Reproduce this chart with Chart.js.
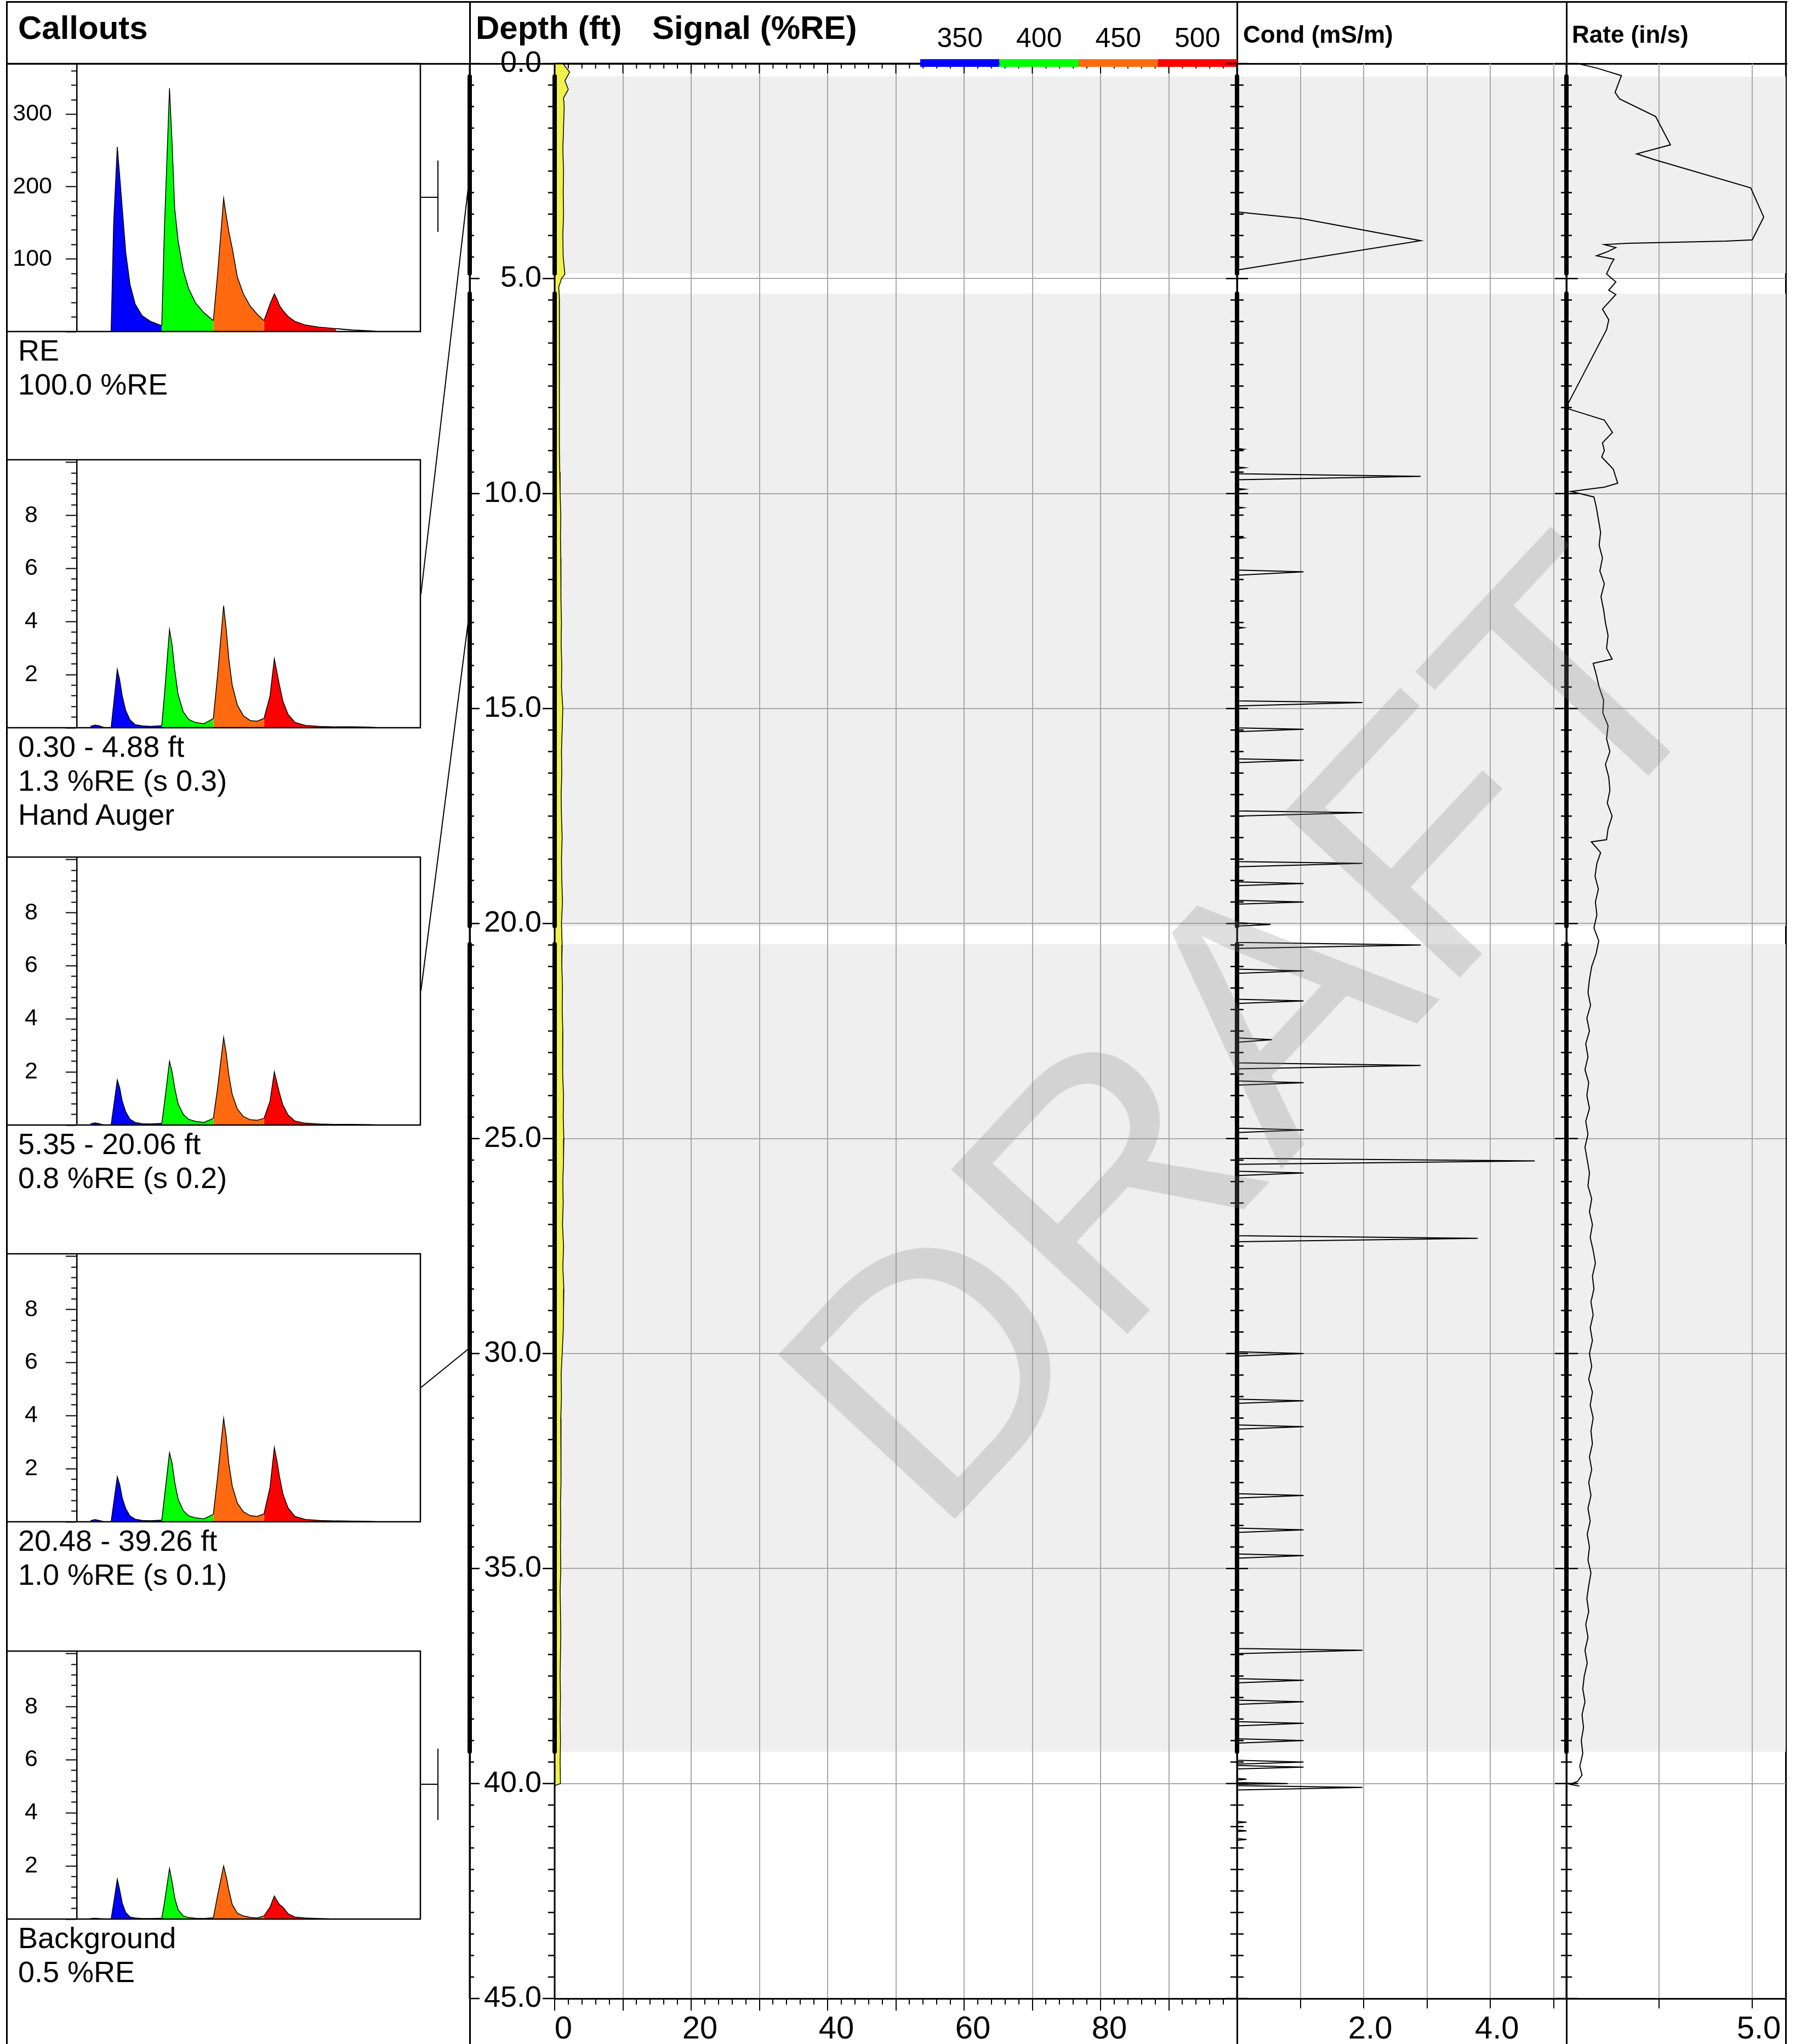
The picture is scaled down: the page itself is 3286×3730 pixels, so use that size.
<!DOCTYPE html>
<html>
<head>
<meta charset="utf-8">
<title>LIF log</title>
<script src="https://cdn.jsdelivr.net/npm/chart.js@4.4.1/dist/chart.umd.min.js"></script>
<style>
html, body { margin: 0; padding: 0; background: #fff; }
#page { position: relative; width: 3286px; height: 3730px; overflow: hidden; font-family: "Liberation Sans", Arial, sans-serif; color: #000; }
#page canvas { position: absolute; z-index: 1; }
.rule { position: absolute; background: #000; z-index: 0; }
.lbl { position: absolute; white-space: nowrap; line-height: 1; z-index: 2; }
.hd { font-weight: bold; }
#draft { position: absolute; left: 2272px; top: 1880px; transform: translate(-50%, -50%) rotate(-47deg); font-size: 640px; color: rgba(128,128,128,0.25); z-index: 5; white-space: nowrap; line-height: 1; pointer-events: none; }
</style>
</head>
<body>
<div id="page">
  <div class="rule" style="left:11px;top:2px;width:3250px;height:3px"></div>
  <div class="rule" style="left:11px;top:115px;width:3250px;height:3px"></div>
  <div class="rule" style="left:11px;top:2px;width:3px;height:3728px"></div>
  <div class="rule" style="left:856px;top:2px;width:3px;height:3728px"></div>
  <div class="rule" style="left:2256px;top:2px;width:3px;height:3728px"></div>
  <div class="rule" style="left:2857px;top:2px;width:3px;height:3728px"></div>
  <div class="rule" style="left:3257px;top:2px;width:3px;height:3728px"></div>

  <div class="lbl hd" style="left:33px;top:21px;font-size:60px">Callouts</div>
  <div class="lbl hd" style="left:868px;top:21px;font-size:60px">Depth (ft)</div>
  <div class="lbl hd" style="left:1190px;top:21px;font-size:60px">Signal (%RE)</div>
  <div class="lbl hd" style="left:2268px;top:41px;font-size:44px">Cond (mS/m)</div>
  <div class="lbl hd" style="left:2868px;top:41px;font-size:44px">Rate (in/s)</div>
  <div id="draft">DRAFT</div>
</div>
<script>
// ---------- data ----------
// callout depth intervals (ft)
const intervals = [[0.30, 4.88], [5.35, 20.06], [20.48, 39.26]];

// spectrum channels
const channelLabels = ['350', '400', '450', '500'];
const channelColors = ['#0000ff', '#00ff00', '#ff6a10', '#ff0000'];
const channelEdges = [8, 49.5, 79.5, 109, 151, 175];

// waveform time base (shared by all callouts)
const specTime = [8, 10.5, 13, 16, 20, 21.5, 23.6, 25, 26.5, 28.5, 31, 34, 38, 43, 49.5,
  51, 54, 55.5, 57, 59, 62, 65, 69, 74, 79.5,
  82, 85.5, 87, 88.5, 90.5, 93.5, 97, 101, 105, 109,
  112.5, 115, 116.5, 118, 120, 123, 127, 133, 141, 151,
  160, 170, 175];

const specRE = [0, 0, 0, 0, 0, 150, 255, 215, 170, 110, 65, 38, 22, 14, 8,
  140, 336, 260, 170, 125, 85, 60, 40, 26, 15,
  80, 184, 160, 138, 115, 75, 52, 35, 24, 15,
  38, 52, 45, 36, 29, 21, 14, 9, 6, 4,
  2, 1, 0];
const specHandAuger = [0.05, 0.1, 0.08, 0, 0, 0.9, 2.2, 1.8, 1.2, 0.65, 0.3, 0.12, 0.07, 0.05, 0.08,
  1.2, 3.7, 3.1, 2.2, 1.25, 0.6, 0.32, 0.2, 0.15, 0.35,
  2.0, 4.6, 3.7, 2.6, 1.6, 0.85, 0.45, 0.27, 0.25, 0.35,
  1.2, 2.6, 2.1, 1.6, 1.0, 0.5, 0.2, 0.09, 0.05, 0.03,
  0.03, 0.02, 0];
const specUpper = [0.04, 0.08, 0.05, 0, 0, 0.7, 1.7, 1.4, 0.9, 0.5, 0.22, 0.1, 0.05, 0.04, 0.06,
  0.8, 2.4, 2.0, 1.4, 0.8, 0.4, 0.22, 0.14, 0.1, 0.25,
  1.4, 3.3, 2.7, 1.9, 1.15, 0.6, 0.32, 0.2, 0.18, 0.25,
  0.9, 2.0, 1.6, 1.2, 0.75, 0.38, 0.15, 0.07, 0.04, 0.02,
  0.02, 0.01, 0];
const specLower = [0.04, 0.08, 0.05, 0, 0, 0.7, 1.7, 1.4, 0.9, 0.5, 0.22, 0.1, 0.05, 0.04, 0.06,
  0.9, 2.6, 2.2, 1.5, 0.85, 0.42, 0.23, 0.15, 0.11, 0.28,
  1.7, 3.9, 3.2, 2.2, 1.35, 0.7, 0.38, 0.23, 0.2, 0.3,
  1.3, 2.8, 2.3, 1.7, 1.05, 0.52, 0.2, 0.09, 0.05, 0.03,
  0.02, 0.01, 0];
const specBackground = [0.02, 0.03, 0.02, 0, 0, 0.6, 1.5, 1.1, 0.6, 0.25, 0.08, 0.04, 0.02, 0.02, 0.03,
  0.6, 1.9, 1.4, 0.8, 0.35, 0.12, 0.06, 0.03, 0.02, 0.05,
  0.9, 2.0, 1.6, 1.1, 0.55, 0.22, 0.12, 0.06, 0.04, 0.12,
  0.45, 0.87, 0.7, 0.55, 0.45, 0.2, 0.08, 0.04, 0.02, 0,
  0, 0, 0];

const specMax = [370, 10.1, 10.1, 10.1, 10.1];
const specStep = [20, 0.4, 0.4, 0.4, 0.4];
const specMajor = [100, 2, 2, 2, 2];
const calloutNotes = [
  ['RE', '100.0 %RE'],
  ['0.30 - 4.88 ft', '1.3 %RE (s 0.3)', 'Hand Auger'],
  ['5.35 - 20.06 ft', '0.8 %RE (s 0.2)'],
  ['20.48 - 39.26 ft', '1.0 %RE (s 0.1)'],
  ['Background', '0.5 %RE']
];

// signal (%RE) vs depth (ft)
const signalDepth = [0.0, 0.2, 0.4, 0.6, 0.8, 1.0, 1.5, 2.0, 2.5, 3.0, 3.5, 4.0, 4.5, 4.9, 5.0, 5.2,
  5.5, 6.0, 6.5, 7.0, 7.5, 8.0, 8.5, 9.0, 9.5, 10.0,
  10.5, 11.0, 11.5, 12.0, 12.5, 13.0, 13.5, 14.0, 14.5, 15.0,
  15.5, 16.0, 16.5, 17.0, 17.5, 18.0, 18.5, 19.0, 19.5, 20.0,
  20.5, 21.0, 21.5, 22.0, 22.5, 23.0, 23.5, 24.0, 24.5, 25.0,
  25.5, 26.0, 26.5, 27.0, 27.5, 28.0, 28.5, 29.0, 29.5, 30.0,
  30.5, 31.0, 31.5, 32.0, 32.5, 33.0, 33.5, 34.0, 34.5, 35.0,
  35.5, 36.0, 36.5, 37.0, 37.5, 38.0, 38.5, 39.0, 39.5, 40.0, 40.05];
const signalValue = [1.2, 2.2, 1.5, 2.0, 1.3, 1.4, 1.3, 1.2, 1.3, 1.25, 1.3, 1.2, 1.25, 1.5, 1.0, 0.6,
  0.7, 0.65, 0.7, 0.65, 0.7, 0.72, 0.7, 0.72, 0.75, 0.8,
  0.9, 0.85, 0.9, 0.95, 0.9, 1.0, 0.95, 1.05, 1.0, 1.2,
  1.1, 1.0, 1.05, 0.95, 1.0, 1.1, 1.0, 1.05, 1.15, 1.0,
  1.1, 1.05, 1.15, 1.1, 1.2, 1.15, 1.2, 1.3, 1.25, 1.35,
  1.3, 1.2, 1.25, 1.15, 1.3, 1.2, 1.35, 1.3, 1.25, 1.1,
  0.95, 1.0, 0.9, 0.95, 0.9, 0.95, 0.85, 0.9, 0.85, 0.9,
  0.8, 0.85, 0.9, 0.85, 0.8, 0.85, 0.8, 0.85, 0.8, 0.85, 0];

// conductivity (mS/m) vs depth (ft)
const condDepth = [0, 3.45, 3.6, 4.12, 4.8,
  8.95, 8.97, 8.99,   9.38, 9.4, 9.42,   9.54, 9.6, 9.68,   9.88, 9.9, 9.92,
  10.31, 10.33, 10.35,   11.01, 11.03, 11.05,   11.78, 11.82, 11.9,   13.1, 13.12, 13.14,
  14.82, 14.86, 14.94,   15.45, 15.48, 15.54,   16.17, 16.2, 16.26,   17.38, 17.42, 17.5,
  18.56, 18.6, 18.68,   19.03, 19.07, 19.12,   19.46, 19.5, 19.55,   19.98, 20.02, 20.06,
  20.44, 20.5, 20.58,   21.06, 21.1, 21.16,   21.76, 21.8, 21.86,   22.66, 22.7, 22.76,
  23.24, 23.3, 23.38,   23.66, 23.7, 23.76,   24.76, 24.8, 24.86,   25.46, 25.52, 25.6,
  25.76, 25.8, 25.86,   27.26, 27.32, 27.4,   29.96, 30.0, 30.06,   31.06, 31.1, 31.16,
  31.66, 31.7, 31.76,   33.26, 33.3, 33.36,   34.06, 34.1, 34.16,   34.66, 34.7, 34.76,
  36.86, 36.9, 36.98,   37.56, 37.6, 37.66,   38.06, 38.1, 38.16,   38.56, 38.6, 38.66,
  38.96, 39.0, 39.06,   39.46, 39.5, 39.55,   39.58, 39.62, 39.66,   39.88, 39.9, 39.92,
  39.98, 40.0, 40.02,   40.05, 40.09, 40.15,   40.88, 40.9, 40.92,   41.08, 41.1, 41.12,
  41.28, 41.3, 41.32];
const condValue = [0, 0, 1.0, 2.9, 0,
  0, 0.1, 0,   0, 0.12, 0,   0, 2.9, 0,   0, 0.12, 0,
  0, 0.1, 0,   0, 0.1, 0,   0, 1.05, 0,   0, 0.1, 0,
  0, 1.98, 0,   0, 1.05, 0,   0, 1.05, 0,   0, 1.98, 0,
  0, 1.98, 0,   0, 1.05, 0,   0, 1.05, 0,   0, 0.53, 0,
  0, 2.9, 0,   0, 1.05, 0,   0, 1.05, 0,   0, 0.55, 0,
  0, 2.9, 0,   0, 1.05, 0,   0, 1.05, 0,   0, 4.7, 0,
  0, 1.05, 0,   0, 3.8, 0,   0, 1.05, 0,   0, 1.05, 0,
  0, 1.05, 0,   0, 1.05, 0,   0, 1.05, 0,   0, 1.05, 0,
  0, 1.98, 0,   0, 1.05, 0,   0, 1.05, 0,   0, 1.05, 0,
  0, 1.05, 0,   0, 1.05, 0,   0, 1.05, 0,   0, 0.15, 0,
  0, 0.8, 0,   0, 1.98, 0,   0, 0.15, 0,   0, 0.15, 0,
  0, 0.15, 0];

// push rate (in/s) vs depth (ft)
const rateDepth = [0.0, 0.1, 0.28, 0.67, 0.82, 1.23, 1.89, 2.1, 2.23, 2.89, 3.57, 4.1, 4.13, 4.18, 4.21,
  4.28, 4.37, 4.47, 4.55, 4.65, 4.89, 5.08, 5.27, 5.37, 5.71, 5.96, 6.19, 7.9, 8.03, 8.29,
  8.58, 8.82, 9.0, 9.15, 9.43, 9.76, 9.85, 9.95, 10.08,
  10.3, 10.6, 10.9, 11.2, 11.5, 11.8, 12.1, 12.4, 12.7, 13.0,
  13.3, 13.6, 13.85, 13.95, 14.2, 14.5, 14.8, 15.1, 15.4, 15.7,
  16.0, 16.3, 16.6, 16.9, 17.2, 17.5, 17.8, 18.05, 18.1, 18.35,
  18.6, 18.9, 19.2, 19.5, 19.8, 20.1, 20.4, 20.7, 21.0, 21.3,
  21.6, 21.9, 22.2, 22.5, 22.8, 23.1, 23.4, 23.7, 24.0, 24.3,
  24.6, 24.9, 25.2, 25.5, 25.8, 26.1, 26.4, 26.7, 27.0, 27.3,
  27.6, 27.9, 28.2, 28.5, 28.8, 29.1, 29.4, 29.7, 30.0, 30.3,
  30.6, 30.9, 31.2, 31.5, 31.8, 32.1, 32.4, 32.7, 33.0, 33.3,
  33.6, 33.9, 34.2, 34.5, 34.8, 35.1, 35.4, 35.7, 36.0, 36.3,
  36.6, 36.9, 37.2, 37.5, 37.8, 38.1, 38.4, 38.7, 39.0, 39.3,
  39.6, 39.8, 39.95, 40.02, 40.06];
const rateValue = [0.3, 0.8, 1.48, 1.31, 1.43, 2.4, 2.8, 1.89, 2.35, 4.96, 5.31, 5.0, 4.29, 1.64, 1.02,
  1.33, 1.12, 0.81, 1.28, 1.21, 1.08, 1.33, 1.14, 1.33, 0.97, 1.14, 1.08, 0.05, 0.05, 1.02,
  1.24, 0.97, 1.02, 0.95, 1.26, 1.38, 1.02, 0.12, 0.74,
  0.80, 0.86, 0.92, 0.88, 0.97, 0.90, 1.02, 0.93, 1.00, 1.05,
  1.12, 1.08, 1.23, 0.72, 0.80, 0.88, 1.00, 0.98, 1.12, 1.08,
  1.17, 1.05, 1.14, 1.17, 1.10, 1.23, 1.12, 1.08, 0.67, 0.92,
  0.82, 0.77, 0.86, 0.78, 0.82, 0.74, 0.87, 0.80, 0.68, 0.62,
  0.58, 0.65, 0.55, 0.62, 0.52, 0.58, 0.50, 0.60, 0.55, 0.62,
  0.52, 0.58, 0.50, 0.56, 0.62, 0.58, 0.68, 0.62, 0.70, 0.64,
  0.72, 0.78, 0.70, 0.74, 0.66, 0.72, 0.64, 0.70, 0.62, 0.68,
  0.60, 0.70, 0.64, 0.72, 0.66, 0.70, 0.62, 0.68, 0.60, 0.66,
  0.58, 0.64, 0.56, 0.62, 0.58, 0.66, 0.60, 0.55, 0.60, 0.52,
  0.58, 0.50, 0.56, 0.48, 0.44, 0.50, 0.42, 0.46, 0.40, 0.44,
  0.36, 0.42, 0.30, 0.10, 0.35];

// ---------- layout ----------
const SPEC_TOP = [116, 839, 1564, 2288, 3013];
const SPEC_H = 489;
const SPEC_PAD = 80;
const SPEC_LABEL_PAD = [25, 51, 51, 51, 51];
const CALLOUT_MID_Y = [1084, 1808, 2532];
const SIG_LEFT = 760;
const FONT = '"Liberation Sans", Arial, sans-serif';
const GRID = '#a8a8a8';
const CLEAR = 'rgba(0,0,0,0)';

Chart.defaults.font.family = FONT;
Chart.defaults.color = '#000';
Chart.defaults.animation = false;
Chart.defaults.events = [];
Chart.defaults.plugins.legend.display = false;
Chart.defaults.plugins.tooltip.enabled = false;

const page = document.getElementById('page');
const isMult = (v, m) => Math.abs(v / m - Math.round(v / m)) < 1e-6;

function makeCanvas(left, top, width, height) {
  const c = document.createElement('canvas');
  c.width = width; c.height = height;
  c.style.left = left + 'px'; c.style.top = top + 'px';
  c.style.width = width + 'px'; c.style.height = height + 'px';
  page.appendChild(c);
  return c.getContext('2d');
}

function addText(text, left, top, size) {
  const d = document.createElement('div');
  d.className = 'lbl';
  d.style.left = left + 'px'; d.style.top = top + 'px'; d.style.fontSize = size + 'px';
  d.textContent = text;
  page.appendChild(d);
}

// ---------- callout spectra ----------
const specFrame = {
  id: 'specFrame',
  afterDraw(chart) {
    const {ctx, chartArea: a} = chart;
    ctx.save();
    ctx.strokeStyle = '#000'; ctx.lineWidth = 2.5;
    ctx.beginPath();
    ctx.moveTo(0, a.top); ctx.lineTo(a.right, a.top);
    ctx.lineTo(a.right, a.bottom); ctx.lineTo(0, a.bottom);
    ctx.stroke();
    ctx.restore();
  }
};

function channelPoints(series, lo, hi) {
  const pts = [];
  specTime.forEach((t, i) => { if (t >= lo && t <= hi) pts.push({x: t, y: series[i]}); });
  return pts;
}

[specRE, specHandAuger, specUpper, specLower, specBackground].forEach((series, k) => {
  const datasets = channelColors.map((col, c) => ({
    data: channelPoints(series, channelEdges[c], channelEdges[c + 1]),
    fill: 'origin', backgroundColor: col, borderColor: '#000', borderWidth: 1.5,
    pointRadius: 0, tension: 0
  }));
  datasets.push({
    data: channelPoints(series, channelEdges[4], channelEdges[5]),
    fill: false, borderColor: '#000', borderWidth: 2, pointRadius: 0
  });
  const max = specMax[k], major = specMajor[k];
  new Chart(makeCanvas(12, SPEC_TOP[k] - SPEC_PAD, 759, SPEC_H + 2 * SPEC_PAD), {
    type: 'line',
    data: {datasets},
    options: {
      responsive: false,
      layout: {padding: {top: SPEC_PAD, bottom: SPEC_PAD, right: 4, left: 0}},
      scales: {
        x: {type: 'linear', min: 0, max: 200, display: false},
        y: {
          type: 'linear', min: 0, max,
          afterFit: s => { s.width = 128; },
          ticks: {stepSize: specStep[k], autoSkip: false, includeBounds: false, padding: SPEC_LABEL_PAD[k], font: {size: 43},
            callback: v => (isMult(v, major) && v > 0 && v + major / 2 < max ? String(v) : '')},
          grid: {drawOnChartArea: false, tickLength: 20, tickColor: '#000', tickWidth: 2,
            tickBorderDash: c => (c.tick && isMult(c.tick.value, major)) ? [] : [0, 10, 10, 0]},
          border: {color: '#000', width: 2.5}
        }
      }
    },
    plugins: [specFrame]
  });
  const bottom = SPEC_TOP[k] + SPEC_H;
  calloutNotes[k].forEach((line, j) => addText(line, 33, bottom + 7 + j * 62, 54));
});

// ---------- depth tracks ----------
function depthAxis(showLabels, width) {
  return {
    type: 'linear', min: 0, max: 45, reverse: true,
    afterFit: s => { s.width = width; },
    ticks: {stepSize: 0.5, autoSkip: false, display: showLabels, padding: 24, font: {size: 54},
      callback: v => (isMult(v, 5) ? v.toFixed(1) : '')},
    grid: {drawTicks: false, lineWidth: 2,
      color: c => (c.tick && isMult(c.tick.value, 5) && c.tick.value > 0 && c.tick.value < 45) ? GRID : CLEAR},
    border: {display: false}
  };
}

const depthFrame = {
  id: 'depthFrame',
  beforeDraw(chart) {
    const {ctx, chartArea: a, scales: {y}} = chart;
    ctx.save();
    ctx.fillStyle = '#efefef';
    intervals.forEach(([d0, d1]) => {
      const y0 = y.getPixelForValue(d0), y1 = y.getPixelForValue(d1);
      ctx.fillRect(a.left, y0, a.right - a.left, y1 - y0);
    });
    ctx.restore();
  },
  afterDatasetsDraw(chart, args, opts) {
    const {ctx, chartArea: a, scales: {y}} = chart;
    ctx.save();
    ctx.strokeStyle = '#000';
    opts.edges.forEach(e => {
      const x = (e.right ? a.right : a.left) + (e.shift || 0);
      ctx.lineCap = 'butt'; ctx.lineWidth = 3;
      ctx.beginPath(); ctx.moveTo(x, a.top); ctx.lineTo(x, a.bottom); ctx.stroke();
      ctx.lineWidth = 2.5;
      ctx.beginPath();
      y.ticks.forEach(t => {
        const py = y.getPixelForValue(t.value);
        const len = isMult(t.value, 5) ? e.major : e.minor;
        ctx.moveTo(e.dir > 0 ? x : x - len, py);
        ctx.lineTo(e.dir < 0 ? x : x + len, py);
      });
      ctx.stroke();
      ctx.lineWidth = 8; ctx.lineCap = 'round';
      ctx.beginPath();
      intervals.forEach(([d0, d1]) => {
        ctx.moveTo(x, y.getPixelForValue(d0)); ctx.lineTo(x, y.getPixelForValue(d1));
      });
      ctx.stroke();
    });
    ctx.restore();
  }
};

const signalDecor = {
  id: 'signalDecor',
  afterDraw(chart) {
    const {ctx, chartArea: a, scales: {x, y}} = chart;
    ctx.save();
    ctx.strokeStyle = '#000';
    ctx.lineWidth = 3;
    ctx.beginPath(); ctx.moveTo(a.left, a.top); ctx.lineTo(a.right, a.top); ctx.stroke();
    ctx.lineWidth = 2;
    ctx.beginPath();
    x.ticks.forEach(t => {
      const px = x.getPixelForValue(t.value);
      ctx.moveTo(px, a.top); ctx.lineTo(px, a.top + (isMult(t.value, 10) ? 18 : 9));
    });
    ctx.stroke();
    // channel legend
    const x0 = a.left + 667, w = (a.right - x0) / channelLabels.length;
    ctx.font = '50px ' + FONT; ctx.textAlign = 'center'; ctx.textBaseline = 'middle';
    channelLabels.forEach((lab, i) => {
      ctx.fillStyle = channelColors[i];
      ctx.fillRect(x0 + i * w, a.top - 8, w, 14);
      ctx.fillStyle = '#000';
      ctx.fillText(lab, x0 + (i + 0.5) * w, 72);
    });
    // callout connectors
    ctx.lineWidth = 2;
    ctx.beginPath();
    CALLOUT_MID_Y.forEach((my, i) => {
      const mid = (intervals[i][0] + intervals[i][1]) / 2;
      ctx.moveTo(768 - SIG_LEFT, my); ctx.lineTo(857 - SIG_LEFT, y.getPixelForValue(mid));
    });
    [[360, 293, 423], [3256, 3191, 3321]].forEach(([hy, v0, v1]) => {
      ctx.moveTo(768 - SIG_LEFT, hy); ctx.lineTo(799 - SIG_LEFT, hy);
      ctx.moveTo(799 - SIG_LEFT, v0); ctx.lineTo(799 - SIG_LEFT, v1);
    });
    ctx.stroke();
    ctx.restore();
  }
};

// signal track
new Chart(makeCanvas(SIG_LEFT, 0, 2257 - SIG_LEFT, 3730), {
  type: 'line',
  data: {datasets: [{
    data: signalDepth.map((d, i) => ({x: signalValue[i], y: d})),
    fill: 'origin', backgroundColor: '#eef24a', borderColor: '#000', borderWidth: 1.5, pointRadius: 0
  }]},
  options: {
    responsive: false, indexAxis: 'y',
    layout: {padding: {top: 116, left: 0, right: 0, bottom: 0}},
    scales: {
      x: {
        type: 'linear', position: 'bottom', min: 0, max: 100,
        afterFit: s => { s.height = 83; },
        ticks: {stepSize: 2, autoSkip: false, maxRotation: 0, font: {size: 58}, padding: 0, labelOffset: 16,
          callback: v => (isMult(v, 20) && v < 100 ? String(v) : '')},
        grid: {lineWidth: 2, tickLength: 22, tickColor: '#000', tickWidth: 2,
          color: c => (c.tick && isMult(c.tick.value, 10) && c.tick.value > 0 && c.tick.value < 100) ? GRID : CLEAR,
          tickBorderDash: c => (c.tick && isMult(c.tick.value, 10)) ? [] : [9, 60]},
        border: {color: '#000', width: 3}
      },
      y: depthAxis(true, 1012 - SIG_LEFT)
    },
    plugins: {depthFrame: {edges: [
      {shift: -155, dir: 1, minor: 8, major: 18},
      {shift: 0, dir: -1, minor: 12, major: 22}
    ]}}
  },
  plugins: [depthFrame, signalDecor]
});

// conductivity track
new Chart(makeCanvas(2230, 0, 640, 3730), {
  type: 'line',
  data: {datasets: [{
    data: condDepth.map((d, i) => ({x: condValue[i], y: d})),
    fill: false, borderColor: '#000', borderWidth: 2, pointRadius: 0
  }]},
  options: {
    responsive: false, indexAxis: 'y',
    layout: {padding: {top: 116, left: 0, right: 12, bottom: 0}},
    scales: {
      x: {
        type: 'linear', position: 'bottom', min: 0, max: 5.2,
        afterFit: s => { s.height = 83; },
        ticks: {stepSize: 1, autoSkip: false, includeBounds: false, maxRotation: 0, font: {size: 58}, padding: 4, labelOffset: 12,
          callback: v => (v === 2 || v === 4 ? v.toFixed(1) : '')},
        grid: {lineWidth: 2, tickLength: 18, tickWidth: 2,
          color: c => (c.tick && isMult(c.tick.value, 1) && c.tick.value > 0) ? GRID : CLEAR,
          tickColor: c => (c.tick && isMult(c.tick.value, 1)) ? '#000' : CLEAR},
        border: {color: '#000', width: 3}
      },
      y: depthAxis(false, 27)
    },
    plugins: {depthFrame: {edges: [{shift: 0, dir: 0, minor: 12, major: 20}]}}
  },
  plugins: [depthFrame]
});

// rate track
new Chart(makeCanvas(2830, 0, 440, 3730), {
  type: 'line',
  data: {datasets: [{
    data: rateDepth.map((d, i) => ({x: rateValue[i], y: d})),
    fill: false, borderColor: '#000', borderWidth: 2, pointRadius: 0
  }]},
  options: {
    responsive: false, indexAxis: 'y',
    layout: {padding: {top: 116, left: 0, right: 12, bottom: 0}},
    scales: {
      x: {
        type: 'linear', position: 'bottom', min: 0, max: 5.9,
        afterFit: s => { s.height = 83; },
        ticks: {stepSize: 2.5, autoSkip: false, includeBounds: false, maxRotation: 0, font: {size: 58}, padding: 4, labelOffset: 12,
          callback: v => (isMult(v, 5) && v > 0 ? '5.0' : '')},
        grid: {lineWidth: 2, tickLength: 18, tickWidth: 2,
          color: c => (c.tick && isMult(c.tick.value, 2.5) && c.tick.value > 0) ? GRID : CLEAR,
          tickColor: c => (c.tick && isMult(c.tick.value, 2.5)) ? '#000' : CLEAR},
        border: {color: '#000', width: 3}
      },
      y: depthAxis(false, 28)
    },
    plugins: {depthFrame: {edges: [
      {shift: 0, dir: 0, minor: 10, major: 21},
      {right: true, dir: -1, minor: 12, major: 23}
    ]}}
  },
  plugins: [depthFrame]
});
</script>
</body>
</html>
